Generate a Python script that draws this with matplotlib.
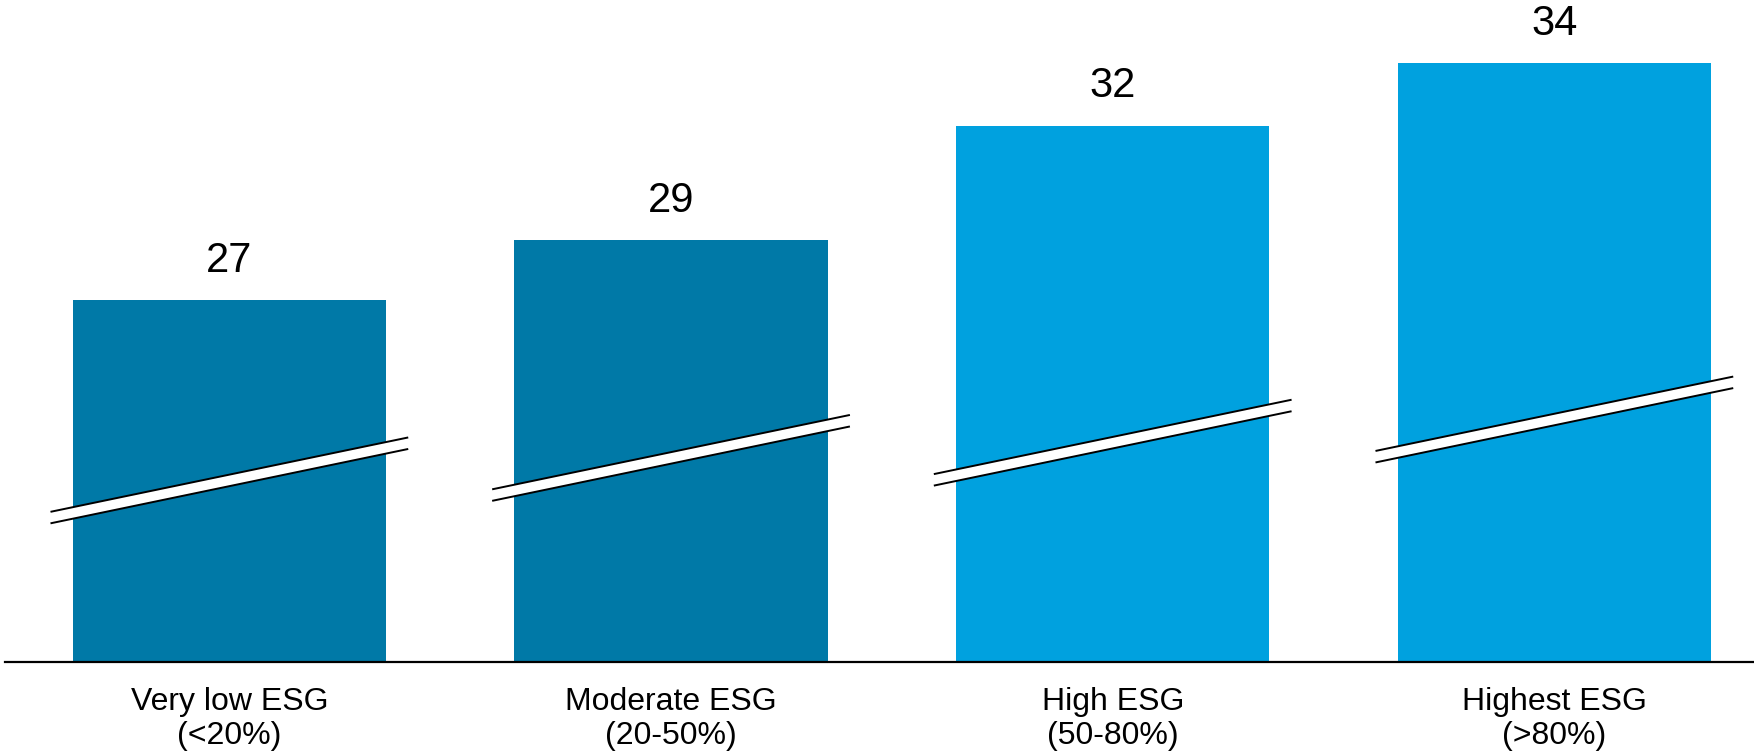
import matplotlib
matplotlib.use("Agg")
import matplotlib.pyplot as plt
from matplotlib.patches import Polygon

plt.rcParams["font.family"] = ["Liberation Sans", "DejaVu Sans"]

# data (bar heights, labels as printed)
categories = ["Very low ESG\n(<20%)", "Moderate ESG\n(20-50%)", "High ESG\n(50-80%)", "Highest ESG\n(>80%)"]
values = [27.08, 28.82, 32.13, 33.95]
value_labels = ["27", "29", "32", "34"]

# style
bar_colors = ["#0079A7", "#0079A7", "#00A1DF", "#00A1DF"]
break_y = [0.274, 0.308, 0.331, 0.366]  # centre of break mark, axes fraction
break_half = 0.405  # half length of break mark in x data units
break_rise = 0.1124  # total rise of break mark in axes fraction
break_gap = 0.0174

W, H = 1754, 754
fig = plt.figure(figsize=(W / 100, H / 100), dpi=100)
ax = fig.add_axes([5 / W, 92.3 / H, 1 - 5 / W, 661.7 / H])

x = list(range(len(values)))
ax.bar(x, values, width=0.709, color=bar_colors, zorder=2)
ax.set_xlim(-0.508, 3.452)
ax.set_ylim(16.6, 35.78)

for xi, v, lab in zip(x, values, value_labels):
    ax.annotate(lab, (xi, v), xytext=(0, 14), textcoords="offset points",
                ha="center", va="bottom", fontsize=30, annotation_clip=False)

# broken-axis marks on each bar
tr = ax.get_xaxis_transform()
for xi, yc in zip(x, break_y):
    x0, x1 = xi - break_half, xi + break_half
    y0, y1 = yc - break_rise / 2, yc + break_rise / 2
    g = break_gap / 2
    poly = Polygon([(x0, y0 + g), (x1, y1 + g), (x1, y1 - g), (x0, y0 - g)],
                   closed=True, facecolor="white", edgecolor="none",
                   transform=tr, zorder=3, clip_on=False)
    ax.add_patch(poly)
    for s in (g, -g):
        ax.plot([x0, x1], [y0 + s, y1 + s], color="black", lw=1.4,
                transform=tr, zorder=4, clip_on=False, solid_capstyle="butt")

for side in ("top", "right", "left"):
    ax.spines[side].set_visible(False)
ax.spines["bottom"].set_linewidth(1.6)
ax.set_yticks([])
ax.set_xticks(x)
ax.set_xticklabels(categories, fontsize=23, linespacing=1.2)
ax.tick_params(axis="x", length=0, pad=18)

fig.savefig("out.png", dpi=100)
